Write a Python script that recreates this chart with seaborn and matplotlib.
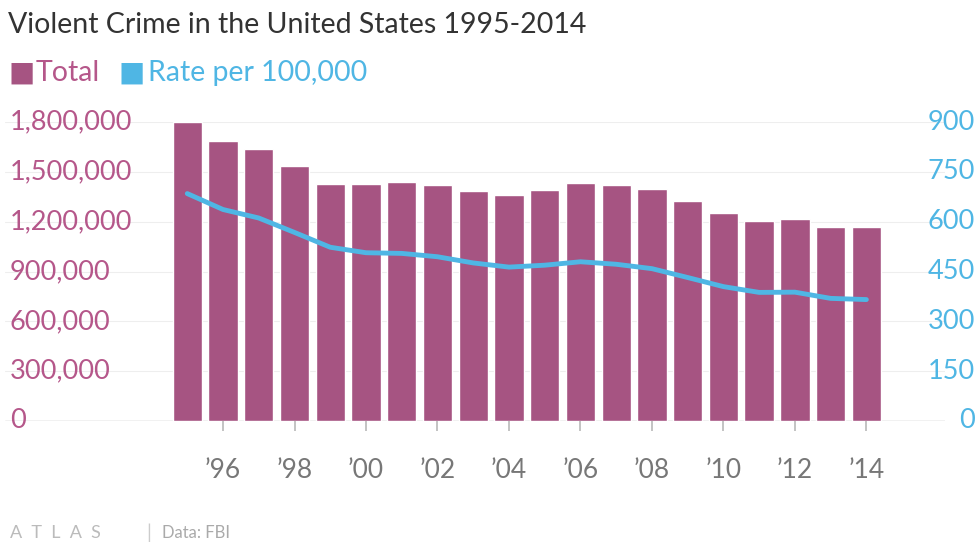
import numpy as np
import pandas as pd
import matplotlib.pyplot as plt
import seaborn as sns
from matplotlib.transforms import blended_transform_factory

sns.set_theme(style="white")
plt.rcParams['font.family'] = ['Lato', 'DejaVu Sans']

years = list(range(1995, 2015))
total = [1798792, 1688540, 1636096, 1533887, 1426044, 1425486, 1439480, 1423677,
         1383676, 1360088, 1390745, 1435123, 1422970, 1394461, 1325896, 1251248,
         1206005, 1217067, 1168298, 1165383]
rate = [684.5, 636.6, 611.0, 567.6, 523.0, 506.5, 504.5, 494.4, 475.8, 463.2,
        469.0, 479.3, 471.8, 458.6, 431.9, 404.5, 387.1, 387.8, 369.1, 365.5]
left_ticks = [0, 300000, 600000, 900000, 1200000, 1500000, 1800000]
right_ticks = [0, 150, 300, 450, 600, 750, 900]
x_ticks = [1996, 1998, 2000, 2002, 2004, 2006, 2008, 2010, 2012, 2014]

df = pd.DataFrame({"year": years, "total": total, "rate": rate})
bar_c = "#a65482"
line_c = "#4fb6e4"
pink_t = "#b5578a"

fig = plt.figure(figsize=(9.8, 5.52), dpi=100)
ax = fig.add_axes([5/980, 1 - 421/552, 940/980, (421 - 122)/552])
ax.bar(df["year"], df["total"], width=0.82, color=bar_c)
ax.set_xlim(1989.9, 2016.2)
ax.set_ylim(0, 1800000)
ax2 = ax.twinx()
sns.lineplot(data=df, x="year", y="rate", ax=ax2, color=line_c, linewidth=3.5)
ax2.set_ylim(0, 900)

for a in (ax, ax2):
    for s in a.spines.values():
        s.set_visible(False)
    a.set_ylabel("")
    a.set_xlabel("")
ax.set_yticks([])
ax2.set_yticks([])
ax.axhline(0, color="#bbbbbb", lw=1, zorder=0)
tr = blended_transform_factory(ax.transAxes, ax.transData)
for v in left_ticks:
    if v:
        ax.axhline(v, color="#eeeeee", lw=0.8, zorder=0)
    ax.text(0.005, v, f"{v:,}", transform=tr, color=pink_t, fontsize=19.5,
            va="center", ha="left")
tr2 = blended_transform_factory(fig.transFigure, ax2.transData)
for v in right_ticks:
    ax2.text(975/980, v, f"{v}", transform=tr2, color=line_c, fontsize=19.5,
             va="center", ha="right")

ax.set_xticks(x_ticks)
ax.set_xticklabels(["\u2019" + str(y)[2:] for y in x_ticks], fontsize=19, color="#777777")
ax.tick_params(axis="x", length=7, color="#bbbbbb", bottom=True, pad=20)

fig.text(8/980, 1 - 25/552, "Violent Crime in the United States 1995-2014",
         fontsize=20.5, color="#333333", va="center")
fig.text(8/980, 1 - 73/552, "\u25a0", fontsize=20, color=bar_c, va="center")
fig.text(36/980, 1 - 73/552, "Total", fontsize=20.5, color=pink_t, va="center")
fig.text(118/980, 1 - 73/552, "\u25a0", fontsize=20, color=line_c, va="center")
fig.text(148/980, 1 - 73/552, "Rate per 100,000", fontsize=20.5, color=line_c, va="center")
fig.text(10/980, 1 - 533/552, "A  T  L  A  S", fontsize=13, color="#bbbbbb", va="center")
fig.text(146/980, 1 - 533/552, "|", fontsize=14, color="#cccccc", va="center")
fig.text(162/980, 1 - 533/552, "Data: FBI", fontsize=12, color="#aaaaaa", va="center")

fig.savefig("out.png", dpi=100)
